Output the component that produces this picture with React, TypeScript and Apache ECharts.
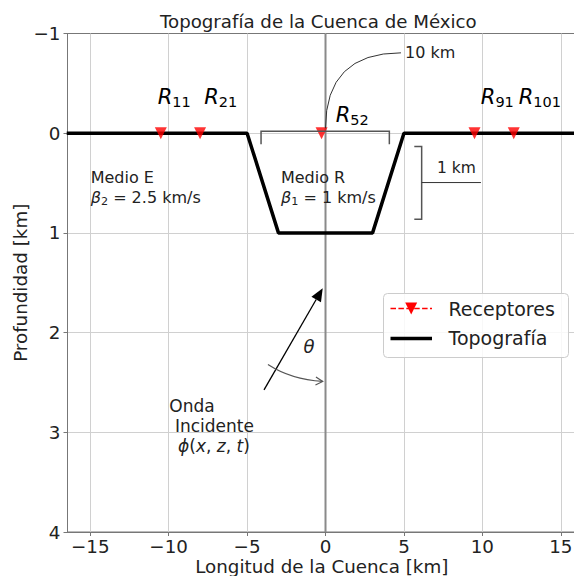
import React, { useEffect, useRef } from 'react';
import * as echarts from 'echarts';

// ---- Texts ----
const TITLE = 'Topografía de la Cuenca de México';
const X_NAME = 'Longitud de la Cuenca [km]';
const Y_NAME = 'Profundidad [km]';
const LEGEND_NAMES = ['Receptores', 'Topografía'];

// ---- Axis extents ----
const X_RANGE = [-16.45, 15.97];
const Y_RANGE = [-1, 4];
const X_STEP = 5;
const Y_STEP = 1;

// ---- Topography (x in km, depth in km) ----
const TOPO_X = [-16.5, -5, -3, 3, 5, 16.5];
const TOPO_Z = [0, 0, 1, 1, 0, 0];

// ---- Receivers ----
const REC_X = [-10.5, -8, -0.25, 9.5, 12];
const REC_Z = [0, 0, 0, 0, 0];
const REC_SUB = ['11', '21', '52', '91', '101'];
const REC_LABEL_X = [-10.7, -7.73, 0.65, 9.9, 12.32];
const REC_LABEL_Z = [-0.294, -0.294, -0.107, -0.294, -0.294];

// ---- Annotation anchors (data coords) ----
const KM10_CURVE = [[0, -0.05], [0, -0.806], [4.81, -0.806]];
const KM10_TEXT = [5.07, -0.806];
const H_BRACKET = [[-4.11, 0.112], [-4.11, -0.02], [4.07, -0.02], [4.07, 0.112]];
const V_BRACKET = [[5.66, 0.134], [6.13, 0.134], [6.13, 0.862], [5.66, 0.862]];
const V_BRACKET_ARM = [[6.13, 0.495], [9.91, 0.495]];
const KM1_TEXT = [8.34, 0.348];
const MEDIO_E = [-14.97, 0.44, 0.64];
const MEDIO_R = [-2.84, 0.44, 0.64];
const ONDA = [[-9.96, 2.735], [-9.6, 2.936], [-9.4, 3.136]];
const WAVE_ARROW = [[-3.92, 2.575], [-0.18, 1.555]];
const THETA = [-1.05, 2.14];
const THETA_ARC = [[-3.67, 2.32], [-2.2, 2.47], [-0.18, 2.49]];

const FONT = 'DejaVu Sans';
const TXT = '#222222';
const AX_FS = 18.3;

let ctx: CanvasRenderingContext2D | null = null;
function measure(text: string, size: number, italic?: boolean) {
  if (!ctx) ctx = document.createElement('canvas').getContext('2d');
  ctx!.font = `${italic ? 'italic ' : ''}${size}px "${FONT}"`;
  return ctx!.measureText(text).width;
}

type Frag = { t: string; size: number; italic?: boolean; dy?: number };

function mathText(px: number, baseline: number, frags: Frag[], color: string) {
  const els: any[] = [];
  let x = px;
  for (const f of frags) {
    const lead = f.t.length - f.t.replace(/^\s+/, '').length;
    const leadW = lead ? measure(f.t.slice(0, lead), f.size, f.italic) : 0;
    const body = f.t.slice(lead);
    if (body.trim().length) {
      els.push({
        type: 'text',
        x: x + leadW,
        y: baseline + (f.dy || 0) - 0.35 * f.size,
        silent: true,
        z: 50,
        style: {
          text: body,
          fontSize: f.size,
          fontFamily: FONT,
          fontStyle: f.italic ? 'italic' : 'normal',
          fill: color,
          align: 'left',
          verticalAlign: 'middle',
        },
      });
    }
    x += measure(f.t, f.size, f.italic);
  }
  return els;
}

const minus = (v: number) => String(v).replace('-', '\u2212');

export default function App() {
  const ref = useRef<HTMLDivElement>(null);
  useEffect(() => {
    const chart = echarts.init(ref.current!, undefined, { renderer: 'svg' });
    const rec = REC_X.map((x, i) => [x, REC_Z[i]]);
    const topo = TOPO_X.map((x, i) => [x, TOPO_Z[i]]);
    const option: any = {
      animation: false,
      backgroundColor: '#ffffff',
      title: {
        text: TITLE,
        left: 160,
        top: 12.5,
        padding: 0,
        textStyle: { fontFamily: FONT, fontSize: 18.2, fontWeight: 'normal', color: TXT },
      },
      grid: {
        left: 67.5,
        right: -2,
        top: 33.5,
        bottom: 44,
        outerBoundsMode: 'none',
        containLabel: false,
        show: true,
        borderColor: '#777777',
        borderWidth: 1,
        backgroundColor: 'transparent',
      },
      xAxis: {
        type: 'value',
        min: X_RANGE[0],
        max: X_RANGE[1],
        minInterval: X_STEP,
        maxInterval: X_STEP,
        splitNumber: 6,
        name: X_NAME,
        nameLocation: 'middle',
        nameGap: 26.5,
        nameMoveOverlap: false,
        nameTextStyle: { fontFamily: FONT, fontSize: AX_FS, color: TXT, lineHeight: 16 },
        axisLine: { show: true, onZero: false, lineStyle: { color: '#777777' } },
        axisTick: { show: true, length: 4, lineStyle: { color: '#777777' } },
        axisLabel: {
          showMinLabel: false,
          showMaxLabel: false,
          fontFamily: FONT,
          fontSize: AX_FS,
          lineHeight: 18,
          color: TXT,
          margin: 5,
          formatter: minus,
        },
        splitLine: { show: true, showMinLine: false, showMaxLine: false, lineStyle: { color: '#d0d0d0', width: 1 } },
      },
      yAxis: {
        type: 'value',
        inverse: true,
        min: Y_RANGE[0],
        max: Y_RANGE[1],
        interval: Y_STEP,
        name: Y_NAME,
        nameLocation: 'middle',
        nameGap: 38,
        nameMoveOverlap: false,
        nameTextStyle: { fontFamily: FONT, fontSize: AX_FS, color: TXT },
        axisLine: { show: true, onZero: false, lineStyle: { color: '#777777' } },
        axisTick: { show: true, length: 4, lineStyle: { color: '#777777' } },
        axisLabel: { fontFamily: FONT, fontSize: AX_FS, color: TXT, margin: 7, formatter: minus },
        splitLine: { show: true, showMinLine: false, showMaxLine: false, lineStyle: { color: '#d0d0d0', width: 1 } },
      },
      series: [
        {
          type: 'line',
          name: 'zero',
          data: [[0, Y_RANGE[0]], [0, Y_RANGE[1]]],
          symbol: 'none',
          silent: true,
          lineStyle: { color: '#8a8a8a', width: 2 },
          z: 1,
        },
        {
          type: 'line',
          name: 'Topografía',
          data: topo,
          symbol: 'none',
          itemStyle: { color: '#000000' },
          lineStyle: { color: '#000000', width: 3.5 },
          z: 3,
        },
        {
          type: 'scatter',
          name: 'Receptores',
          data: rec,
          symbol: 'triangle',
          symbolRotate: 180,
          symbolSize: 12,
          itemStyle: { color: '#ff0000' },
          z: 4,
        },
      ],
    };
    chart.setOption(option);

    const P = (p: number[]) => chart.convertToPixel({ xAxisIndex: 0, yAxisIndex: 0 }, p) as number[];
    const g: any[] = [];

    // receiver labels
    REC_SUB.forEach((s, i) => {
      const [x, y] = P([REC_LABEL_X[i], REC_LABEL_Z[i]]);
      g.push(...mathText(x, y, [{ t: 'R', size: 21, italic: true }, { t: s, size: 14.5, dy: 3 }], '#000'));
    });

    // 10 km curve + text
    const c0 = P(KM10_CURVE[0]), c1 = P(KM10_CURVE[1]), c2 = P(KM10_CURVE[2]);
    g.push({
      type: 'bezierCurve',
      silent: true,
      z: 40,
      shape: { x1: c0[0], y1: c0[1], cpx1: c1[0], cpy1: c1[1], x2: c2[0], y2: c2[1] },
      style: { stroke: '#333333', lineWidth: 1, fill: null },
    });
    const t10 = P(KM10_TEXT);
    g.push(...mathText(t10[0], t10[1] + 0.35 * 16, [{ t: '10 km', size: 16 }], TXT));

    // horizontal bracket
    g.push({
      type: 'polyline',
      silent: true,
      z: 40,
      shape: { points: H_BRACKET.map(P) },
      style: { stroke: '#555555', lineWidth: 1.5, fill: null },
    });
    // vertical bracket
    g.push({
      type: 'polyline',
      silent: true,
      z: 40,
      shape: { points: V_BRACKET.map(P) },
      style: { stroke: '#555555', lineWidth: 1.5, fill: null },
    });
    g.push({
      type: 'polyline',
      silent: true,
      z: 40,
      shape: { points: V_BRACKET_ARM.map(P) },
      style: { stroke: '#333333', lineWidth: 1, fill: null },
    });
    const t1 = P(KM1_TEXT);
    g.push({
      type: 'text',
      x: t1[0],
      y: t1[1],
      silent: true,
      z: 50,
      style: { text: '1 km', fontSize: 15.5, fontFamily: FONT, fill: TXT, align: 'center', verticalAlign: 'middle' },
    });

    // Medio E / Medio R
    [[MEDIO_E, 'Medio E', '2', ' = 2.5 km/s'], [MEDIO_R, 'Medio R', '1', ' = 1 km/s']].forEach(([pos, name, sub, rest]: any) => {
      const a = P([pos[0], pos[1]]);
      const b = P([pos[0], pos[2]]);
      g.push({
        type: 'text',
        x: a[0],
        y: a[1],
        silent: true,
        z: 50,
        style: { text: name, fontSize: 16, fontFamily: FONT, fill: TXT, align: 'left', verticalAlign: 'middle' },
      });
      g.push(...mathText(b[0], b[1] + 0.35 * 16, [
        { t: '\u03b2', size: 16, italic: true },
        { t: sub, size: 11.2, dy: 2.5 },
        { t: rest, size: 16 },
      ], TXT));
    });

    // Onda Incidente
    const o0 = P(ONDA[0]), o1 = P(ONDA[1]), o2 = P(ONDA[2]);
    g.push({ type: 'text', x: o0[0], y: o0[1], silent: true, z: 50,
      style: { text: 'Onda', fontSize: 17, fontFamily: FONT, fill: TXT, align: 'left', verticalAlign: 'middle' } });
    g.push({ type: 'text', x: o1[0], y: o1[1], silent: true, z: 50,
      style: { text: 'Incidente', fontSize: 17, fontFamily: FONT, fill: TXT, align: 'left', verticalAlign: 'middle' } });
    g.push(...mathText(o2[0], o2[1] + 0.35 * 17, [
      { t: '\u03d5', size: 17, italic: true },
      { t: '(', size: 17 },
      { t: 'x', size: 17, italic: true },
      { t: ', ', size: 17 },
      { t: 'z', size: 17, italic: true },
      { t: ', ', size: 17 },
      { t: 't', size: 17, italic: true },
      { t: ')', size: 17 },
    ], TXT));

    // incident wave arrow
    const w0 = P(WAVE_ARROW[0]), w1 = P(WAVE_ARROW[1]);
    const dx = w1[0] - w0[0], dy = w1[1] - w0[1];
    const L = Math.hypot(dx, dy);
    const ux = dx / L, uy = dy / L;
    const hl = 13, hw = 5.5;
    const bx = w1[0] - ux * hl, by = w1[1] - uy * hl;
    g.push({ type: 'line', silent: true, z: 40,
      shape: { x1: w0[0], y1: w0[1], x2: bx, y2: by },
      style: { stroke: '#000', lineWidth: 1.3 } });
    g.push({ type: 'polygon', silent: true, z: 40,
      shape: { points: [[w1[0], w1[1]], [bx - uy * hw, by + ux * hw], [bx + uy * hw, by - ux * hw]] },
      style: { fill: '#000', stroke: null } });

    // theta
    const th = P(THETA);
    g.push({ type: 'text', x: th[0], y: th[1], silent: true, z: 50,
      style: { text: '\u03b8', fontSize: 18, fontStyle: 'italic', fontFamily: FONT, fill: TXT, align: 'center', verticalAlign: 'middle' } });

    // theta arc
    const a0 = P(THETA_ARC[0]), a1 = P(THETA_ARC[1]), a2 = P(THETA_ARC[2]);
    g.push({ type: 'bezierCurve', silent: true, z: 40,
      shape: { x1: a0[0], y1: a0[1], cpx1: a1[0], cpy1: a1[1], x2: a2[0], y2: a2[1] },
      style: { stroke: '#555555', lineWidth: 1.2, fill: null } });
    const tdx = a2[0] - a1[0], tdy = a2[1] - a1[1];
    const tl = Math.hypot(tdx, tdy);
    const tx = tdx / tl, ty = tdy / tl;
    g.push({ type: 'polyline', silent: true, z: 40,
      shape: { points: [
        [a2[0] - tx * 7 - ty * 4, a2[1] - ty * 7 + tx * 4],
        [a2[0], a2[1]],
        [a2[0] - tx * 7 + ty * 4, a2[1] - ty * 7 - tx * 4],
      ] },
      style: { stroke: '#555555', lineWidth: 1.2, fill: null } });

    // legend (drawn as a box with handles)
    const LX = 383.5, LY = 293.5, LW = 185, LH = 64;
    g.push({ type: 'rect', silent: true, z: 60,
      shape: { x: LX, y: LY, width: LW, height: LH, r: 4 },
      style: { fill: 'rgba(255,255,255,0.85)', stroke: '#cccccc', lineWidth: 1 } });
    const row1 = LY + 15, row2 = LY + 45;
    g.push({ type: 'line', silent: true, z: 61,
      shape: { x1: LX + 7, y1: row1, x2: LX + 48.5, y2: row1 },
      style: { stroke: '#ff0000', lineWidth: 1.5, lineDash: [5.5, 2.4] } });
    const tcx = LX + 27.7;
    g.push({ type: 'polygon', silent: true, z: 62,
      shape: { points: [[tcx - 6, row1 - 6], [tcx + 6, row1 - 6], [tcx, row1 + 6]] },
      style: { fill: '#ff0000', stroke: null } });
    g.push({ type: 'line', silent: true, z: 61,
      shape: { x1: LX + 7, y1: row2, x2: LX + 48.5, y2: row2 },
      style: { stroke: '#000000', lineWidth: 3.5 } });
    g.push(...mathText(LX + 65, LY + 22.5, [{ t: LEGEND_NAMES[0], size: 19 }], TXT).map((e) => ({ ...e, z: 63 })));
    g.push(...mathText(LX + 65, LY + 51.5, [{ t: LEGEND_NAMES[1], size: 19 }], TXT).map((e) => ({ ...e, z: 63 })));

    chart.setOption({ graphic: g });
    return () => chart.dispose();
  }, []);
  return <div ref={ref} style={{ position: 'fixed', left: 0, top: 0, width: 574, height: 576 }} />;
}
